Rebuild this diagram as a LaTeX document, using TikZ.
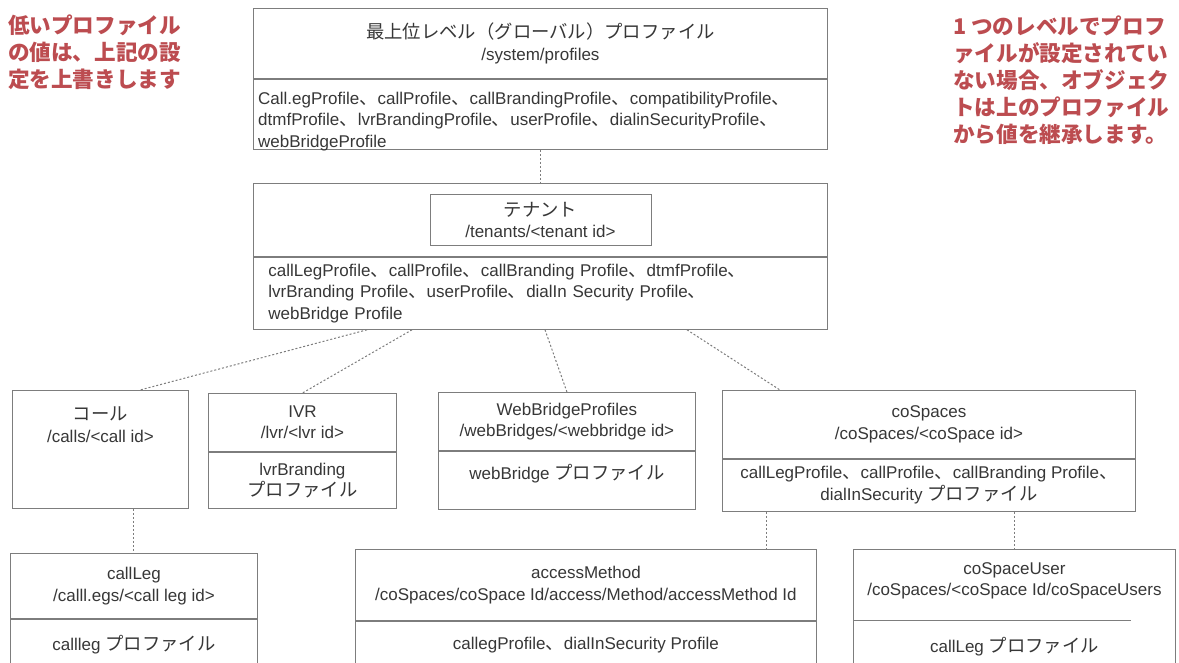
\documentclass[tikz,border=0pt]{standalone}
\usepackage{fontspec}
\setmainfont{Liberation Sans}
\newfontfamily\jp[Scale=1.08]{Noto Sans CJK JP}
\usetikzlibrary{positioning}

\definecolor{notered}{RGB}{188,76,80}
\definecolor{linegray}{RGB}{125,125,125}
\definecolor{txtgray}{RGB}{55,55,55}
\newcommand{\jcomma}{{\jp 、}}

\begin{document}
\begin{tikzpicture}[x=1pt, y=-1pt, font=\fontsize{17}{21.5}\selectfont, text=txtgray,
    box/.style={draw=linegray, line width=0.9pt, anchor=north west, inner sep=5pt, align=center},
    link/.style={draw=linegray, line width=1pt, dash pattern=on 2pt off 2pt},
    note/.style={anchor=north west, inner sep=0pt, align=left, text=notered,
      font=\jp\bfseries\fontsize{20}{27}\selectfont}]

    \path[use as bounding box, fill=white] (0,0) rectangle (1179,663);

    % Notes
    \node[note] (lownote) at (8,15) {低いプロファイル\\の値は、上記の設\\定を上書きします};
    \node[note] (inhnote) at (953,16) {1 つのレベルでプロフ\\ァイルが設定されてい\\ない場合、オブジェク\\トは上のプロファイル\\から値を継承します。};

    % Global profiles
    \node[box, minimum width=574, minimum height=70] (globhdr) at (253,8)
        {{\jp 最上位レベル（グローバル）プロファイル}\\/system/profiles};
    \node[box, minimum width=574, minimum height=70, below=0pt of globhdr] (globbody) {};
    \node[anchor=north west, inner sep=0pt, align=left] (globtext) at ([xshift=5pt, yshift=-13pt]globbody.north west)
        {Call.egProfile\jcomma callProfile\jcomma callBrandingProfile\jcomma compatibilityProfile\jcomma\\
         dtmfProfile\jcomma lvrBrandingProfile\jcomma userProfile\jcomma dialinSecurityProfile\jcomma\\
         webBridgeProfile};

    % Tenant
    \node[box, minimum width=574, minimum height=73] (tenhdr) at (253,183) {};
    \node[box, minimum width=221, minimum height=51, anchor=center] (tenant) at (tenhdr.center)
        {{\jp テナント}\\/tenants/<tenant id>};
    \node[box, minimum width=574, minimum height=72, inner xsep=15pt, text width=544, align=left, below=0pt of tenhdr] (tenbody)
        {callLegProfile\jcomma callProfile\jcomma callBranding Profile\jcomma dtmfProfile\jcomma\\
         lvrBranding Profile\jcomma userProfile\jcomma dialIn Security Profile\jcomma\\
         webBridge Profile};

    % Second level
    \node[box, minimum width=176, minimum height=118,
          label={[align=center, anchor=north, inner sep=0pt, yshift=-17pt]north:{{\jp コール}\\/calls/<call id>}}] (call) at (12,390) {};

    \node[box, minimum width=188, minimum height=58] (ivrhdr) at (208,393) {IVR\\/lvr/<lvr id>};
    \node[box, minimum width=188, minimum height=56, below=0pt of ivrhdr] (ivrbody) {lvrBranding\\{\jp プロファイル}};

    \node[box, minimum width=257, minimum height=58] (webhdr) at (438,392) {WebBridgeProfiles\\/webBridges/<webbridge id>};
    \node[box, minimum width=257, minimum height=58, text depth=16pt, below=0pt of webhdr] (webbody) {webBridge {\jp プロファイル}};

    \node[box, minimum width=413, minimum height=68] (cosphdr) at (722,390) {coSpaces\\/coSpaces/<coSpace id>};
    \node[box, minimum width=413, minimum height=52, below=0pt of cosphdr] (cospbody)
        {callLegProfile\jcomma callProfile\jcomma callBranding Profile\jcomma\\dialInSecurity {\jp プロファイル}};

    % Third level
    \node[box, minimum width=247, minimum height=65] (leghdr) at (10,553) {callLeg\\/calll.egs/<call leg id>};
    \node[box, minimum width=247, minimum height=50, below=0pt of leghdr] (legbody) {callleg {\jp プロファイル}};

    \node[box, minimum width=461, minimum height=71] (acchdr) at (355,549)
        {accessMethod\\/coSpaces/coSpace Id/access/Method/accessMethod Id};
    \node[box, minimum width=461, minimum height=48, below=0pt of acchdr] (accbody) {callegProfile\jcomma dialInSecurity Profile};

    \node[box, minimum width=322, minimum height=119,
          label={[align=center, anchor=north, inner sep=0pt, yshift=-13pt]north:{coSpaceUser\\/coSpaces/<coSpace Id/coSpaceUsers}},
          label={[anchor=south, inner sep=0pt, yshift=13pt]south:{callLeg {\jp プロファイル}}}] (cosuser) at (853,549) {};
    \draw[draw=linegray, line width=0.9pt] ([yshift=-71pt]cosuser.north west) -- ++(278,0);

    % Links
    \draw[link] (globbody.south) -- (tenhdr.north);
    \draw[link] ([xshift=114pt]tenbody.south west) -- ([xshift=128pt]call.north west);
    \draw[link] ([xshift=159pt]tenbody.south west) -- (ivrhdr.north);
    \draw[link] ([xshift=292pt]tenbody.south west) -- (webhdr.north);
    \draw[link] ([xshift=434pt]tenbody.south west) -- ([xshift=58pt]cosphdr.north west);
    \draw[link] (call.south -| leghdr.north) -- (leghdr.north);
    \draw[link] ([xshift=44pt]cospbody.south west) -- ([xshift=44pt]cospbody.south west |- acchdr.north);
    \draw[link] (cospbody.south -| cosuser.north) -- (cosuser.north);

\end{tikzpicture}
\end{document}
